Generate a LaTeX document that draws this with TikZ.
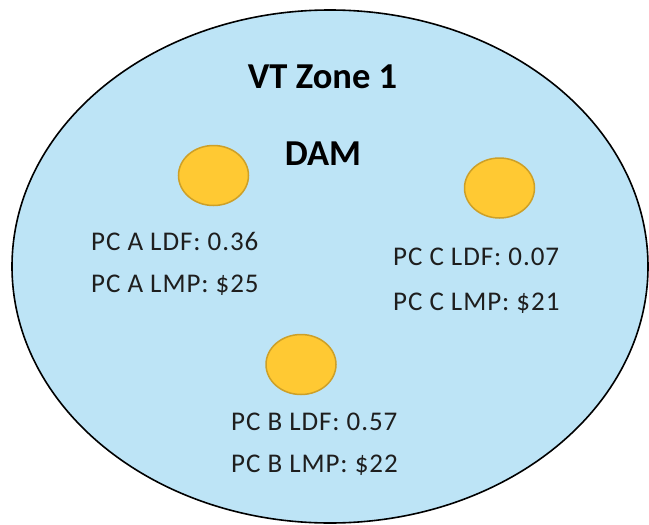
\documentclass[tikz,border=0pt]{standalone}
\usepackage{fontspec}
\setmainfont{Carlito}
\newfontfamily\lblfont[LetterSpace=3.5]{Carlito}
\usetikzlibrary{shapes.geometric}
\definecolor{zonefill}{RGB}{189,228,246}
\definecolor{pcfill}{RGB}{255,201,51}
\definecolor{pcdraw}{RGB}{205,160,40}
\definecolor{txt}{RGB}{30,30,30}
\tikzset{
  zone/.style={ellipse, draw=black, line width=1.6pt, fill=zonefill, inner sep=0pt, minimum width=636pt, minimum height=513pt},
  pc/.style={ellipse, draw=pcdraw, line width=1.5pt, fill=pcfill, inner sep=0pt, minimum width=70pt, minimum height=60pt},
  title/.style={anchor=base, inner sep=0pt, font=\fontsize{36.5}{40}\selectfont\bfseries, text=black},
  lbl/.style={anchor=base west, inner sep=0pt, font=\lblfont\fontsize{27}{30}\selectfont, text=txt}
}
\begin{document}
\begin{tikzpicture}[x=1pt,y=-1pt]
\useasboundingbox (0,0) rectangle (649,525);
\node[zone] (zone) at (330,266.5) {};
\node[title] (vt) at (322.5,88) {VT Zone 1};
\node[title] (dam) at (323,165) {DAM};
\node[pc] (pca) at (213.5,175.5) {};
\node[pc] (pcc) at (499.5,188) {};
\node[pc] (pcb) at (301,364.5) {};
\node[lbl] (aldf) at (91,250) {PC A LDF: 0.36};
\node[lbl] (almp) at (91,292) {PC A LMP: \$25};
\node[lbl] (cldf) at (393,265) {PC C LDF: 0.07};
\node[lbl] (clmp) at (393,310) {PC C LMP: \$21};
\node[lbl] (bldf) at (231,430) {PC B LDF: 0.57};
\node[lbl] (blmp) at (231,472) {PC B LMP: \$22};
\end{tikzpicture}
\end{document}
